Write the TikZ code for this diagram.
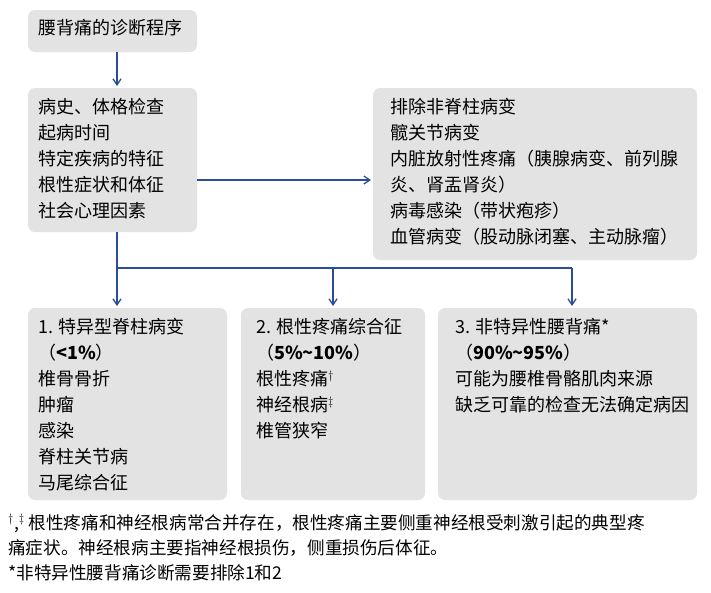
\documentclass[tikz,border=0pt]{standalone}
\usepackage{fontspec}
\setmainfont{Noto Sans CJK SC}
\usetikzlibrary{arrows.meta}
\definecolor{boxg}{HTML}{E3E3E3}
\definecolor{arr}{HTML}{2B4C9B}
\begin{document}
\begin{tikzpicture}[x=1pt,y=-1pt,
  box/.style={fill=boxg,rounded corners=7pt},
  txt/.style={anchor=north west,inner sep=0pt,align=left,font=\fontsize{18}{26}\selectfont},
  con/.style={draw=arr,line width=1.3pt,-{Straight Barb[length=6pt,width=8pt]}},
  ln/.style={draw=arr,line width=1.3pt}]
\useasboundingbox (0,0) rectangle (711,592);
\fill[box] (28,10) rectangle (197,52);
\fill[box] (28,88) rectangle (197,232);
\fill[box] (373,88) rectangle (697,260);
\fill[box] (28,308) rectangle (227,500);
\fill[box] (241,308) rectangle (425,500);
\fill[box] (438,308) rectangle (697,500);
\coordinate (b1) at (117,52);
\coordinate (b2t) at (117,86);
\coordinate (b2r) at (197,180);
\coordinate (b3l) at (371,180);
\coordinate (b2b) at (117,232);
\coordinate (j1) at (117,268);
\coordinate (j2) at (333,268);
\coordinate (j3) at (572,268);
\coordinate (e1) at (117,306);
\coordinate (e2) at (333,306);
\coordinate (e3) at (572,306);
\node[txt] (t1) at (38,19) {腰背痛的诊断程序};
\node[txt] (t2) at (38,98) {病史、体格检查\\起病时间\\特定疾病的特征\\根性症状和体征\\社会心理因素};
\node[txt] (t3) at (390,98) {排除非脊柱病变\\髋关节病变\\内脏放射性疼痛（胰腺病变、前列腺\\炎、肾盂肾炎）\\病毒感染（带状疱疹）\\血管病变（股动脉闭塞、主动脉瘤）};
\node[txt] (t4) at (38,318) {1. 特异型脊柱病变\\（\textbf{<1\%}）\\椎骨骨折\\肿瘤\\感染\\脊柱关节病\\马尾综合征};
\node[txt] (t5) at (256,318) {2. 根性疼痛综合征\\（\textbf{5\%\textasciitilde10\%}）\\根性疼痛$^{\dagger}$\\神经根病$^{\ddagger}$\\椎管狭窄};
\node[txt] (t6) at (455,318) {3. 非特异性腰背痛*\\（\textbf{90\%\textasciitilde95\%}）\\可能为腰椎骨骼肌肉来源\\缺乏可靠的检查无法确定病因};
\node[txt,font=\fontsize{17.6}{25}\selectfont] (fn) at (8,514) {$^{\dagger}$,$^{\ddagger}$ 根性疼痛和神经根病常合并存在，根性疼痛主要侧重神经根受刺激引起的典型疼\\痛症状。神经根病主要指神经根损伤，侧重损伤后体征。\\*非特异性腰背痛诊断需要排除1和2};
\draw[con] (b1) -- (b2t);
\draw[con] (b2r) -- (b3l);
\draw[ln] (b2b) -- (j1) -- (j3);
\draw[con] (j1) -- (e1);
\draw[con] (j2) -- (e2);
\draw[con] (j3) -- (e3);
\end{tikzpicture}
\end{document}
